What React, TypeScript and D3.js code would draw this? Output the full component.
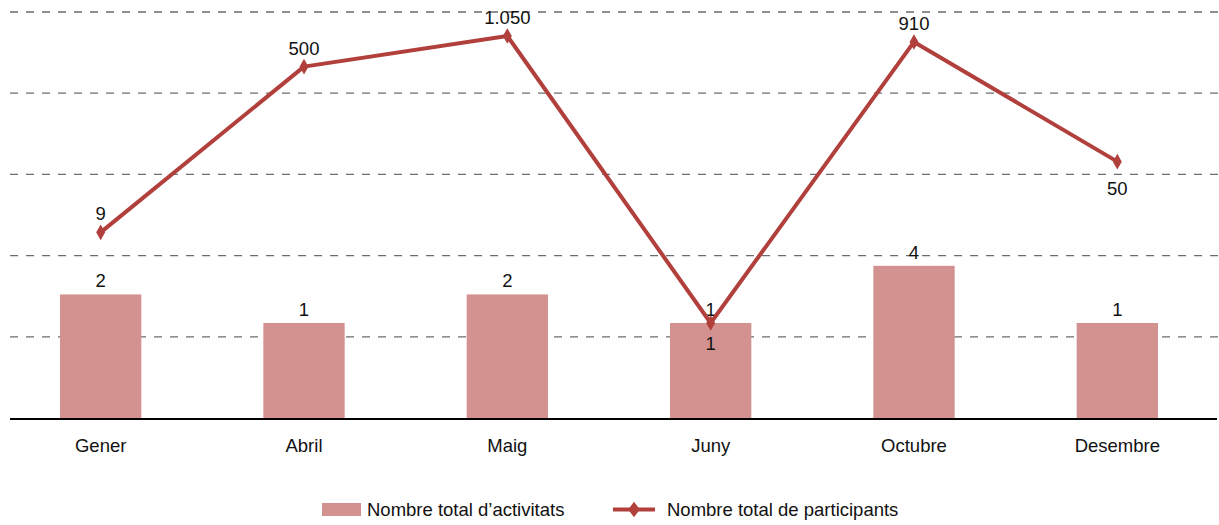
import React from "react";
import * as d3 from "d3";

const categories = ["Gener", "Abril", "Maig", "Juny", "Octubre", "Desembre"];
const activitats = [2, 1, 2, 1, 4, 1];
const participants = [9, 500, 1050, 1, 910, 50];
const participantLabels = ["9", "500", "1.050", "1", "910", "50"];
const participantLabelPos = ["above", "above", "above", "below", "above", "below"];
const seriesNames = ["Nombre total d\u2019activitats", "Nombre total de participants"];

const W = 1219;
const H = 525;
const FONT = "'Liberation Sans', Arial, Helvetica, sans-serif";
const FS = 18.5;
const BAR_COLOR = "#d39290";
const LINE_COLOR = "#b1403d";

export default function App() {
  const x = d3.scaleBand<string>().domain(categories).range([-1, 1219]).paddingInner(0.6).paddingOuter(0.3);
  const y = d3.scaleLog().domain([0.1, 1880]).range([418, 12]);
  const gridYs = d3.range(1, 6).map((i) => d3.interpolateNumber(418, 12)(i / 5));
  const cx = (c: string) => (x(c) as number) + x.bandwidth() / 2;
  const lineGen = d3
    .line<number>()
    .x((_, i) => cx(categories[i]))
    .y((d) => y(d));
  const diamond = d3.symbol().type(d3.symbolDiamond).size(70)();

  return (
    <svg width={W} height={H} style={{ position: "absolute", left: 0, top: 0, background: "#fff" }} fontFamily={FONT}>
      {gridYs.map((gy, i) => (
        <line key={i} x1={10} x2={1219} y1={gy} y2={gy} stroke="#6e6e6e" strokeWidth={1.3} strokeDasharray="8 8" />
      ))}
      {categories.map((c, i) => (
        <rect key={c} x={x(c)} y={y(activitats[i])} width={x.bandwidth()} height={y(0.1) - y(activitats[i])} fill={BAR_COLOR} />
      ))}
      <line x1={10} x2={1217} y1={419} y2={419} stroke="#000" strokeWidth={2} />
      {categories.map((c, i) => (
        <text key={"bl" + c} x={cx(c)} y={y(activitats[i]) - 7} textAnchor="middle" fontSize={FS} fill="#111">
          {activitats[i]}
        </text>
      ))}
      <path d={lineGen(participants) || ""} fill="none" stroke={LINE_COLOR} strokeWidth={4} strokeLinejoin="round" />
      {participants.map((v, i) => (
        <path key={"m" + i} d={diamond || ""} transform={`translate(${cx(categories[i])},${y(v)})`} fill={LINE_COLOR} />
      ))}
      {participants.map((v, i) => (
        <text
          key={"pl" + i}
          x={cx(categories[i])}
          y={participantLabelPos[i] === "above" ? y(v) - 12 : y(v) + (i === 5 ? 33 : 27)}
          textAnchor="middle"
          fontSize={FS}
          fill="#111"
        >
          {participantLabels[i]}
        </text>
      ))}
      {categories.map((c) => (
        <text key={"x" + c} x={cx(c)} y={452} textAnchor="middle" fontSize={FS} fill="#111">
          {c}
        </text>
      ))}
      <g>
        <rect x={322} y={503} width={39} height={13} fill={BAR_COLOR} />
        <text x={367} y={516} fontSize={FS} fill="#111">
          {seriesNames[0]}
        </text>
        <line x1={613} x2={655} y1={509.5} y2={509.5} stroke={LINE_COLOR} strokeWidth={4} />
        <path d={diamond || ""} transform="translate(634,509.5) scale(1.3,1)" fill={LINE_COLOR} />
        <text x={667} y={516} fontSize={FS} fill="#111">
          {seriesNames[1]}
        </text>
      </g>
    </svg>
  );
}
